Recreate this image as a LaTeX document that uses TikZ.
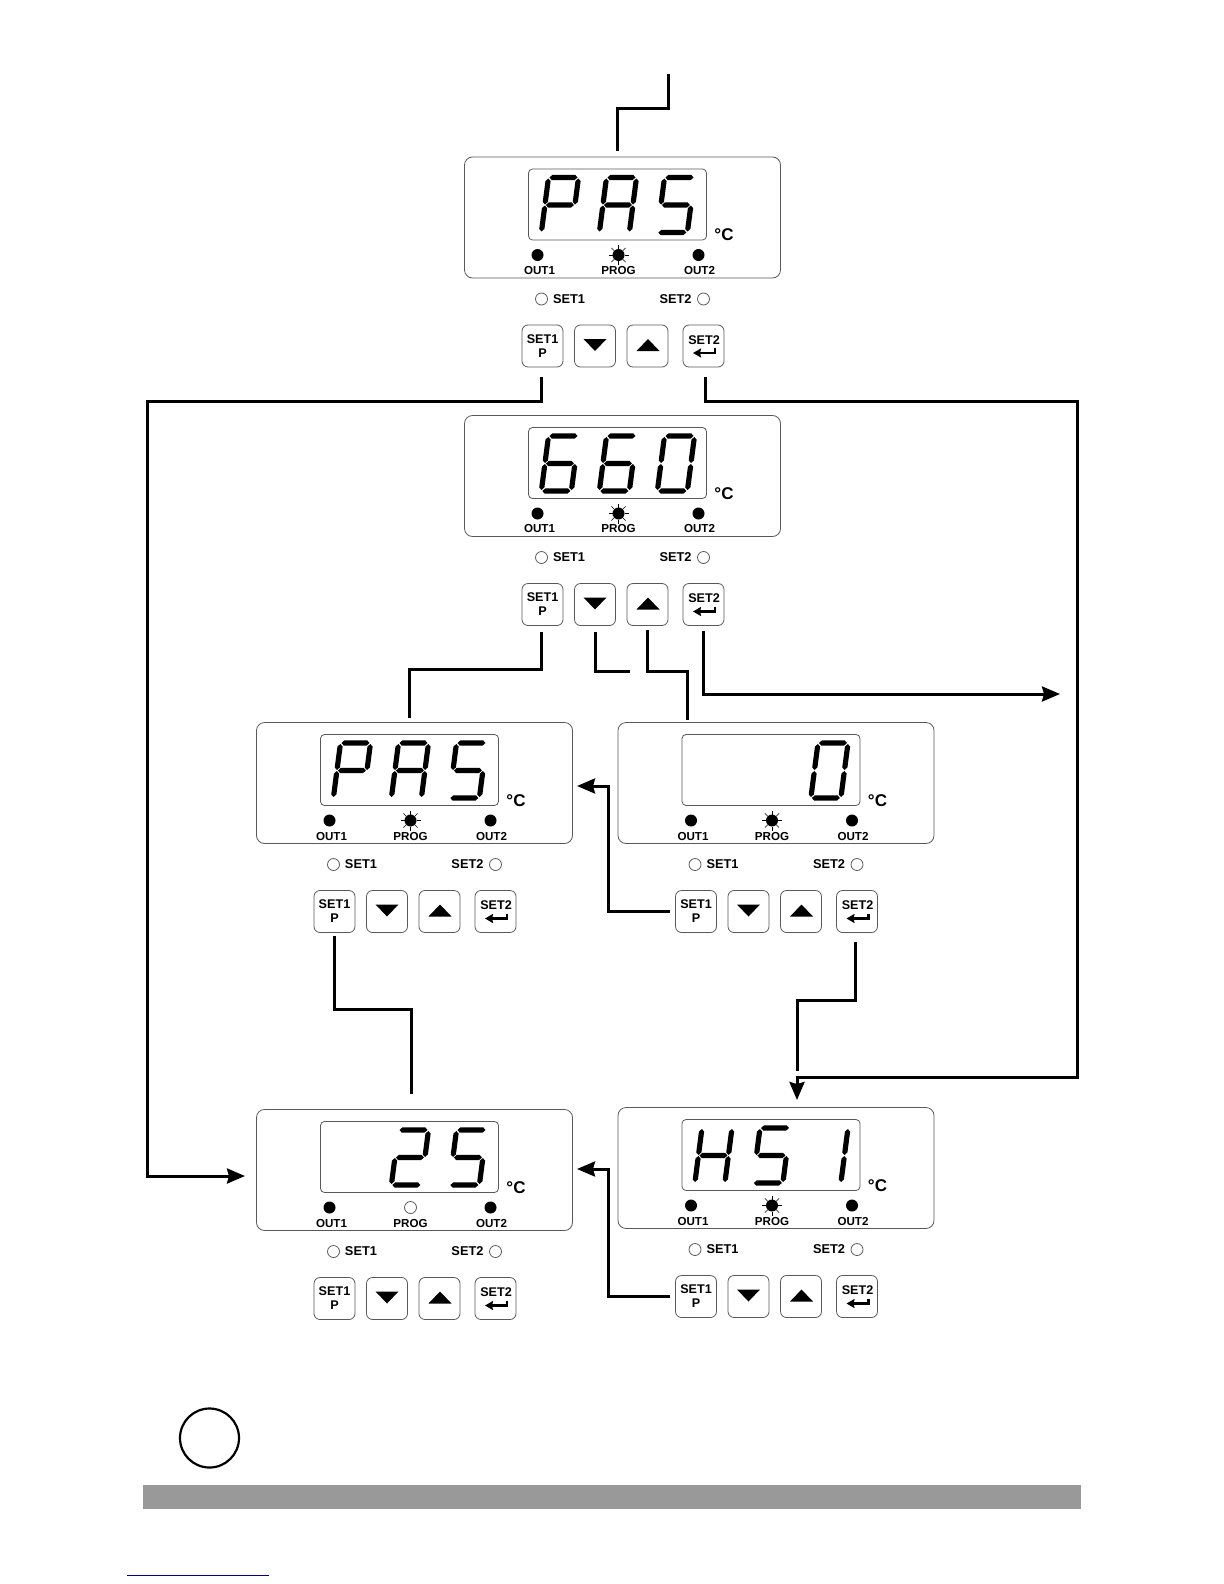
\documentclass[tikz,border=0pt]{standalone}
\usepackage{fontspec}
\setmainfont{Liberation Sans}
\usetikzlibrary{arrows.meta}
\tikzset{
    >=Stealth,
    panelbox/.style={draw=black!65,line width=.4pt,rounded corners=4pt,minimum width=158pt,minimum height=60.5pt,inner sep=0pt,outer sep=0pt},
    lcdbox/.style={draw=black!65,line width=.4pt,rounded corners=2pt,minimum width=89pt,minimum height=35.5pt,inner sep=0pt,outer sep=0pt},
    keybox/.style={draw=black!65,line width=.4pt,rounded corners=3pt,minimum width=20.5pt,minimum height=21pt,inner sep=0pt,outer sep=0pt,align=center,font=\bfseries\fontsize{6.3}{7}\selectfont},
    ledon/.style={circle,fill=black,minimum size=6pt,inner sep=0pt},
    ledoff/.style={circle,draw=black!65,line width=.4pt,minimum size=6pt,inner sep=0pt},
    ledtext/.style={font=\bfseries\fontsize{5.8}{6}\selectfont,inner sep=0pt},
    settext/.style={font=\bfseries\fontsize{6.4}{7}\selectfont,inner sep=0pt},
    unittext/.style={font=\bfseries\fontsize{8.5}{9}\selectfont,inner sep=0pt},
    flowline/.style={draw,line width=1.5pt},
    flowarrow/.style={flowline,-{Stealth[length=9pt,width=7.5pt,inset=1pt]}}
}

% Segments of one digit
\newcommand{\seghoriz}[2]{\fill (#1,#2) -- ++(2.6,-2.6) -- ++(22.8,0) -- ++(2.6,2.6) -- ++(-2.6,2.6) -- ++(-22.8,0) -- cycle;}
\newcommand{\segvert}[2]{\fill (#1,#2) -- ++(2.6,2.6) -- ++(0,20.8) -- ++(-2.6,2.6) -- ++(-2.6,-2.6) -- ++(0,-20.8) -- cycle;}
\def\sega{\seghoriz{1}{0}}
\def\segb{\segvert{30}{1}}
\def\segc{\segvert{30}{28}}
\def\segd{\seghoriz{1}{55}}
\def\sege{\segvert{0}{28}}
\def\segf{\segvert{0}{1}}
\def\segg{\seghoriz{1}{27.5}}
\def\segz{}
\def\digP{a,b,e,f,g}
\def\digA{a,b,c,e,f,g}
\def\digS{a,c,d,f,g}
\def\digH{b,c,e,f,g}
\def\digI{b,c}
\def\digO{a,b,c,d,e,f}
\def\digT{a,b,d,e,g}
\def\digX{a,c,d,e,f,g}
\def\digN{z}
\newcommand{\segdigit}[2]{%
  \begin{scope}[shift={(#1,20.5)},xslant=0.13]
    \foreach \segid in #2 {\csname seg\segid\endcsname}
  \end{scope}}

% One controller: name, x, y, three digits, PROG lit or not
\newcommand{\controller}[7]{%
  \begin{scope}[shift={(#2,#3)}]
    \node[panelbox] (#1-panel) at (158,60.5) {};
    \node[lcdbox] (#1-lcd) at (153,47.5) {};
    \segdigit{84}{#4}
    \segdigit{142}{#5}
    \segdigit{200}{#6}
    \node[unittext] (#1-unit) at (259.5,78) {°C};
    \node[ledon] (#1-ledout1) at (73,98) {};
    \node[ledon] (#1-ledout2) at (234,98) {};
    \ifnum#7=1
      \node[ledon] (#1-ledprog) at (154,98) {};
      \foreach \a in {0,45,...,315} \draw[line width=.3pt] (#1-ledprog.center) ++(\a:6) -- ++(\a:4);
    \else
      \node[ledoff] (#1-ledprog) at (154,98) {};
    \fi
    \node[ledtext] (#1-out1) at (75,113.5) {OUT1};
    \node[ledtext] (#1-prog) at (154,113.5) {PROG};
    \node[ledtext] (#1-out2) at (235,113.5) {OUT2};
    \node[ledoff] (#1-ledset1) at (77,142) {};
    \node[settext] (#1-textset1) at (104.5,142) {SET1};
    \node[settext] (#1-textset2) at (211,142) {SET2};
    \node[ledoff] (#1-ledset2) at (239,142) {};
    \node[keybox] (#1-set1) at (78,189) {SET1\\P};
    \node[keybox] (#1-down) at (130.5,189) {};
    \node[keybox] (#1-up) at (183,189) {};
    \node[keybox] (#1-set2) at (239,189) {};
    \node[keybox,draw=none,minimum size=0pt] (#1-textkey2) at (239.5,183) {SET2};
    \fill (119,182) -- ++(23,0) -- ++(-11.5,12) -- cycle;
    \fill (172,194) -- ++(23,0) -- ++(-11.5,-12) -- cycle;
    \draw[line width=1.3pt,-{Stealth[length=4pt,width=4.5pt,inset=.5pt]}] (250.5,191) -- (250.5,196) -- (228.5,196);
  \end{scope}}

\begin{document}
\begin{tikzpicture}[x=.5pt,y=-.5pt]
\useasboundingbox (0,0) rectangle (1224,1584);

% Controllers
\controller{pass}{464.5}{157}{\digP}{\digA}{\digS}{1}
\controller{code}{464.5}{415.5}{\digX}{\digX}{\digO}{1}
\controller{again}{256.5}{722.5}{\digP}{\digA}{\digS}{1}
\controller{zero}{618}{722.5}{\digN}{\digN}{\digO}{1}
\controller{temp}{256.5}{1109.5}{\digN}{\digT}{\digS}{0}
\controller{hsi}{618}{1107.5}{\digH}{\digS}{\digI}{1}

% Free ends
\coordinate (entry) at (668,74);
\coordinate (passin) at (617,151);
\coordinate (tempin) at (245,1176);
\coordinate (hsiin) at (797,1100);
\coordinate (againin) at (409,718);
\coordinate (codeend) at (630,671);
\coordinate (zeroin) at (687,720);
\coordinate (codeout) at (1060,694);
\coordinate (againback) at (577,786);
\coordinate (tempback) at (577,1169);
\coordinate (againout) at (411,1094);
\coordinate (zeroout) at (797,1071);

% Connectors
\draw[flowline] (entry) |- (617,109) -- (passin);
\draw[flowarrow,shorten <=5pt] ([xshift=-.7pt]pass-set1.south) |- (147,401) |- (tempin);
\draw[flowarrow,shorten <=5pt] ([xshift=1.2pt]pass-set2.south) |- (1077,401) |- (797,1077) -- (hsiin);
\draw[flowline,shorten <=3pt] ([xshift=-.7pt]code-set1.south) |- (409,669) -- (againin);
\draw[flowline,shorten <=3pt] (code-down.south) |- (codeend);
\draw[flowline,shorten <=2pt] (code-up.south) |- (687,671) -- (zeroin);
\draw[flowarrow,shorten <=2.5pt] (code-set2.south) |- (codeout);
\draw[flowarrow,shorten <=3pt] (zero-set1.west) -| (608,786) -- (againback);
\draw[flowline,shorten <=1.5pt] (again-set1.south) |- (411,1009) -- (againout);
\draw[flowline,shorten <=4.5pt] ([xshift=-.7pt]zero-set2.south) |- (797,1000) -- (zeroout);
\draw[flowarrow,shorten <=3pt] (hsi-set1.west) -| (608,1169) -- (tempback);

% Foot of the page
\node[circle,draw,line width=1.1pt,minimum size=29.5pt,inner sep=0pt] (marker) at (209.5,1438) {};
\fill[black!40] (143,1485) rectangle (1081,1509);
\draw[line width=.5pt,color=blue!50!black] (127,1575) -- (269,1575);

\end{tikzpicture}
\end{document}
